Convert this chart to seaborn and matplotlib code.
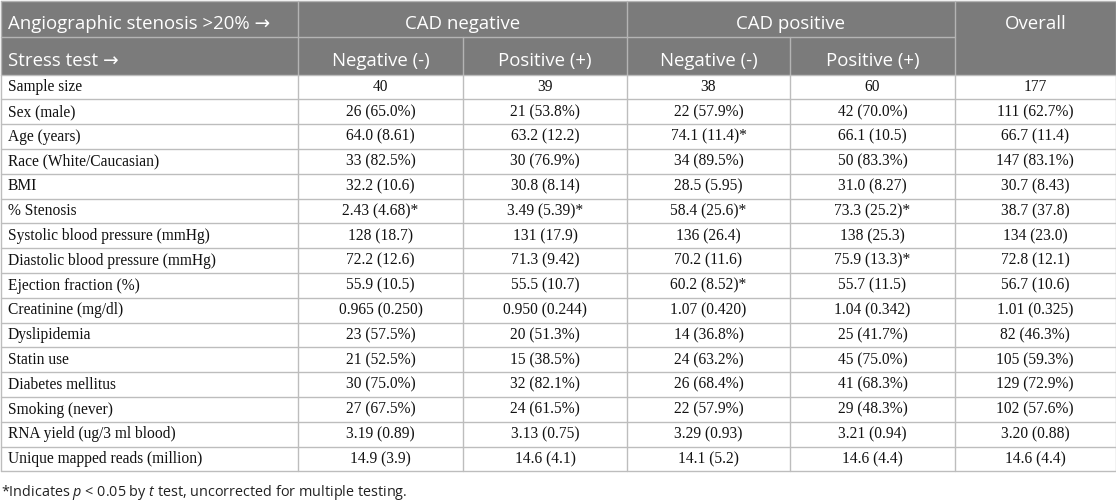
import matplotlib
matplotlib.use("Agg")
import matplotlib.pyplot as plt
import seaborn as sns
from matplotlib.patches import Rectangle

sns.set_theme(style="white")
plt.rcParams['mathtext.fontset'] = 'custom'
plt.rcParams['mathtext.rm'] = 'Open Sans'
plt.rcParams['mathtext.it'] = 'Open Sans:italic'

# ---------------- data ----------------
group_headers = ["CAD negative", "CAD positive", "Overall"]
sub_headers = ["Negative (-)", "Positive (+)", "Negative (-)", "Positive (+)"]
top_left = "Angiographic stenosis >20% \u2192"
second_left = "Stress test \u2192"

row_labels = [
    "Sample size", "Sex (male)", "Age (years)", "Race (White/Caucasian)", "BMI",
    "% Stenosis", "Systolic blood pressure (mmHg)", "Diastolic blood pressure (mmHg)",
    "Ejection fraction (%)", "Creatinine (mg/dl)", "Dyslipidemia", "Statin use",
    "Diabetes mellitus", "Smoking (never)", "RNA yield (ug/3 ml blood)",
    "Unique mapped reads (million)",
]
cad_neg_stress_neg = [
    "40", "26 (65.0%)", "64.0 (8.61)", "33 (82.5%)", "32.2 (10.6)", "2.43 (4.68)*",
    "128 (18.7)", "72.2 (12.6)", "55.9 (10.5)", "0.965 (0.250)", "23 (57.5%)",
    "21 (52.5%)", "30 (75.0%)", "27 (67.5%)", "3.19 (0.89)", "14.9 (3.9)",
]
cad_neg_stress_pos = [
    "39", "21 (53.8%)", "63.2 (12.2)", "30 (76.9%)", "30.8 (8.14)", "3.49 (5.39)*",
    "131 (17.9)", "71.3 (9.42)", "55.5 (10.7)", "0.950 (0.244)", "20 (51.3%)",
    "15 (38.5%)", "32 (82.1%)", "24 (61.5%)", "3.13 (0.75)", "14.6 (4.1)",
]
cad_pos_stress_neg = [
    "38", "22 (57.9%)", "74.1 (11.4)*", "34 (89.5%)", "28.5 (5.95)", "58.4 (25.6)*",
    "136 (26.4)", "70.2 (11.6)", "60.2 (8.52)*", "1.07 (0.420)", "14 (36.8%)",
    "24 (63.2%)", "26 (68.4%)", "22 (57.9%)", "3.29 (0.93)", "14.1 (5.2)",
]
cad_pos_stress_pos = [
    "60", "42 (70.0%)", "66.1 (10.5)", "50 (83.3%)", "31.0 (8.27)", "73.3 (25.2)*",
    "138 (25.3)", "75.9 (13.3)*", "55.7 (11.5)", "1.04 (0.342)", "25 (41.7%)",
    "45 (75.0%)", "41 (68.3%)", "29 (48.3%)", "3.21 (0.94)", "14.6 (4.4)",
]
overall = [
    "177", "111 (62.7%)", "66.7 (11.4)", "147 (83.1%)", "30.7 (8.43)", "38.7 (37.8)",
    "134 (23.0)", "72.8 (12.1)", "56.7 (10.6)", "1.01 (0.325)", "82 (46.3%)",
    "105 (59.3%)", "129 (72.9%)", "102 (57.6%)", "3.20 (0.88)", "14.6 (4.4)",
]
footnote = r"*Indicates $\mathit{p}$ < 0.05 by $\mathit{t}$ test, uncorrected for multiple testing."

# ---------------- layout ----------------
W, H = 1116, 501
col_edges = [0.5, 298, 463, 627, 790, 955, 1115.5]
hdr1_top, hdr1_bot, hdr2_bot = 0.5, 37, 74.5
row_h = 24.8
n_rows = len(row_labels)
table_bot = hdr2_bot + n_rows * row_h

hdr_bg = "#7b7b7b"
hdr_line = "#b4b4b4"
body_line = "#bdbdbd"
body_font = ["Liberation Serif", "DejaVu Serif"]
head_font = ["Open Sans", "DejaVu Sans"]

fig = plt.figure(figsize=(W / 100, H / 100), dpi=100)
ax = fig.add_axes([0, 0, 1, 1])
ax.set_xlim(0, W)
ax.set_ylim(H, 0)
ax.axis("off")

# header background
ax.add_patch(Rectangle((col_edges[0], hdr1_top), col_edges[-1] - col_edges[0],
                       hdr2_bot - hdr1_top, facecolor=hdr_bg, edgecolor="none", zorder=1))

# header lines
lw = 1.0
ax.plot([col_edges[0], col_edges[-1]], [hdr1_top, hdr1_top], color=hdr_line, lw=lw, zorder=2)
ax.plot([col_edges[0], col_edges[5]], [hdr1_bot, hdr1_bot], color=hdr_line, lw=lw, zorder=2)
for x in [col_edges[0], col_edges[1], col_edges[3], col_edges[5], col_edges[6]]:
    ax.plot([x, x], [hdr1_top, hdr2_bot], color=hdr_line, lw=lw, zorder=2)
for x in [col_edges[2], col_edges[4]]:
    ax.plot([x, x], [hdr1_bot, hdr2_bot], color=hdr_line, lw=lw, zorder=2)

# header text
hfs = 13.4
y1, y2 = 23.5, 60.5
ax.text(8, y1, top_left, ha="left", va="center", color="white", fontsize=hfs, family=head_font, zorder=3)
ax.text(8, y2, second_left, ha="left", va="center", color="white", fontsize=hfs, family=head_font, zorder=3)
ax.text((col_edges[1] + col_edges[3]) / 2, y1, group_headers[0], ha="center", va="center",
        color="white", fontsize=hfs, family=head_font, zorder=3)
ax.text((col_edges[3] + col_edges[5]) / 2, y1, group_headers[1], ha="center", va="center",
        color="white", fontsize=hfs, family=head_font, zorder=3)
ax.text((col_edges[5] + col_edges[6]) / 2, y1, group_headers[2], ha="center", va="center",
        color="white", fontsize=hfs, family=head_font, zorder=3)
for i, s in enumerate(sub_headers):
    ax.text((col_edges[i + 1] + col_edges[i + 2]) / 2, y2, s, ha="center", va="center",
            color="white", fontsize=hfs, family=head_font, zorder=3)

# body grid
for i in range(n_rows + 1):
    y = hdr2_bot + i * row_h
    ax.plot([col_edges[0], col_edges[-1]], [y, y], color=body_line, lw=lw, zorder=2)
for x in col_edges:
    ax.plot([x, x], [hdr2_bot, table_bot], color=body_line, lw=lw, zorder=2)

# body text
bfs = 11.2
columns = [cad_neg_stress_neg, cad_neg_stress_pos, cad_pos_stress_neg, cad_pos_stress_pos, overall]
for r, lab in enumerate(row_labels):
    yc = hdr2_bot + (r + 0.5) * row_h + 0.3
    ax.text(8, yc, lab, ha="left", va="center", color="#111111", fontsize=bfs, family=body_font, zorder=3)
    for c, col in enumerate(columns):
        xc = (col_edges[c + 1] + col_edges[c + 2]) / 2
        ax.text(xc, yc, col[r], ha="center", va="center", color="#111111", fontsize=bfs,
                family=body_font, zorder=3)

# footnote
ax.text(1, 492, footnote, ha="left", va="center", color="#222222", fontsize=10.4,
        family=head_font, zorder=3)

fig.savefig("out.png", dpi=100)
